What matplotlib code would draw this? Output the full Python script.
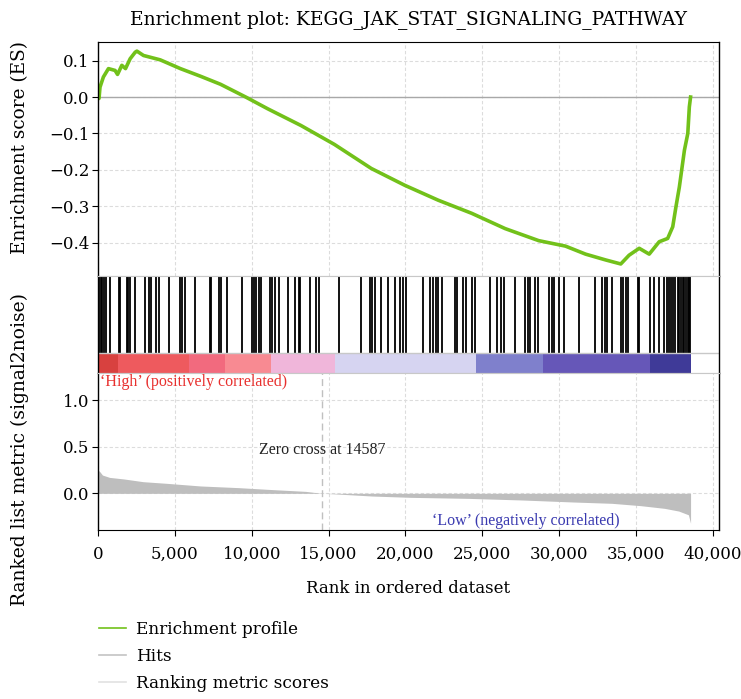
import numpy as np
import matplotlib
matplotlib.use("Agg")
import matplotlib.pyplot as plt
from matplotlib.lines import Line2D
from matplotlib.ticker import FuncFormatter, MultipleLocator

plt.rcParams["font.family"] = ["DejaVu Serif"]

# running enrichment score (rank, ES)
es_rank = [0, 65, 130, 350, 680, 1110, 1270, 1550, 1790, 2090, 2420, 2530,
           2960, 4050, 5360, 6670, 7970, 9610, 11030, 13200, 15380, 17780,
           19950, 22130, 24310, 26490, 28670, 30410, 31720, 33030, 34010,
           34550, 35210, 35860, 36510, 37060, 37390, 37600, 37820, 38150,
           38370, 38470, 38550]
es_value = [0.0, -0.004, 0.027, 0.055, 0.078, 0.073, 0.062, 0.087, 0.078,
            0.105, 0.123, 0.126, 0.114, 0.102, 0.078, 0.057, 0.035, 0.0,
            -0.032, -0.078, -0.130, -0.196, -0.242, -0.283, -0.319, -0.361,
            -0.394, -0.409, -0.431, -0.447, -0.458, -0.434, -0.415, -0.431,
            -0.397, -0.388, -0.356, -0.301, -0.247, -0.146, -0.100, -0.027,
            0.0]

# positions of gene set members in the ranked list
hit_ranks = [87, 196, 283, 414, 523, 784, 1373, 1460, 1873, 1983, 2092, 2375,
             3027, 3333, 3464, 3791, 3987, 4641, 5360, 5469, 5643, 6340, 7255,
             7364, 7865, 7996, 8410, 9390, 10045, 10154, 10305, 10480, 10588,
             11177, 11351, 11500, 11743, 12330, 12830, 13093, 13140, 13790,
             14183, 14357, 15665, 17124, 17669, 17843, 17995, 18431, 18867,
             19302, 19673, 19847, 20022, 21113, 21592, 21766, 21984, 22135,
             22353, 23225, 23333, 23770, 23943, 24314, 24532, 25512, 25948,
             26210, 26426, 27145, 27799, 27952, 28082, 28452, 28605, 29324,
             29542, 29694, 29981, 30307, 31288, 32307, 32810, 32962, 33093,
             33463, 34052, 34183, 34335, 34492, 35099, 35210, 35929, 36191,
             36517, 36844, 36994, 37125, 37275, 37431, 37562, 37713, 37822,
             37926, 38040, 38151, 38256, 38370, 38476, 38540]

# ranked list metric (signal2noise)
metric_rank = [0, 130, 290, 750, 1690, 2930, 4490, 6670, 9150, 11025, 13510,
               14587, 15300, 17850, 20360, 24100, 27520, 30940, 33430, 35300,
               36860, 37780, 38410, 38550]
metric_value = [0.25, 0.23, 0.196, 0.171, 0.154, 0.125, 0.107, 0.079, 0.061,
                0.043, 0.021, 0.0, -0.005, -0.029, -0.043, -0.054, -0.071,
                -0.093, -0.107, -0.132, -0.161, -0.19, -0.23, -0.32]

# colour band along the ranked list: segment edges and colours
band_edges = [0, 1300, 5950, 8240, 11240, 15390, 24560, 28950, 35890, 38560]
band_colors = ["#d8413f", "#ee5a5e", "#f26a7e", "#f88a92", "#f0b6da",
               "#d6d4f1", "#7f80cc", "#6657b8", "#3f3a98"]

zero_cross = 14587
x_max = 40400

green = "#72c11a"
W, H = 741, 699

fig = plt.figure(figsize=(W / 100, H / 100), dpi=100)


def frac(x0, y0, x1, y1):
    return [x0 / W, 1 - y1 / H, (x1 - x0) / W, (y1 - y0) / H]


ax_es = fig.add_axes(frac(98, 42, 719, 276))
ax_hit = fig.add_axes(frac(98, 276, 719, 373))
ax_rm = fig.add_axes(frac(98, 373, 719, 530))

grid_kw = dict(color="#dcdcdc", linestyle=(0, (3, 2)), linewidth=0.8)
frame_gray = "#c8c8c8"
tick_font = 12

# enrichment score panel
ax_es.plot(es_rank, es_value, color=green, linewidth=2.6, solid_joinstyle="round")
ax_es.axhline(0, color="#a8a8a8", linewidth=1.0, zorder=1)
ax_es.set_xlim(0, x_max)
ax_es.set_ylim(-0.491, 0.151)
ax_es.yaxis.set_major_locator(MultipleLocator(0.1))
ax_es.xaxis.set_major_locator(MultipleLocator(5000))
ax_es.grid(True, **grid_kw)
ax_es.set_axisbelow(True)
ax_es.tick_params(axis="x", length=0, labelbottom=False)
ax_es.tick_params(axis="y", labelsize=tick_font, length=4, width=0.8, pad=2)
ax_es.yaxis.set_major_formatter(FuncFormatter(lambda v, p: f"{v:.1f}".replace("-", "\u2212")))
ax_es.spines["bottom"].set_color(frame_gray)

# hits and colour band
ax_hit.set_xlim(0, x_max)
ax_hit.set_ylim(0, 1)
band_top = 20 / 97
ax_hit.vlines(hit_ranks, band_top, 1, color="black", linewidth=1.3)
for i, c in enumerate(band_colors):
    ax_hit.axvspan(band_edges[i], band_edges[i + 1], 0, band_top,
                   color=c, linewidth=0)
ax_hit.axhline(band_top, color=frame_gray, linewidth=1.0)
ax_hit.set_xticks([])
ax_hit.set_yticks([])
ax_hit.spines["top"].set_color(frame_gray)
ax_hit.spines["bottom"].set_color(frame_gray)

# ranked list metric panel
ax_rm.fill_between(metric_rank, 0, metric_value, color="#bebebe", linewidth=0)
ax_rm.set_xlim(0, x_max)
ax_rm.set_ylim(-0.393, 1.29)
ax_rm.yaxis.set_major_locator(MultipleLocator(0.5))
ax_rm.xaxis.set_major_locator(MultipleLocator(5000))
ax_rm.xaxis.set_major_formatter(FuncFormatter(lambda v, p: f"{int(v):,}"))
ax_rm.yaxis.set_major_formatter(FuncFormatter(lambda v, p: f"{v:.1f}"))
ax_rm.grid(True, **grid_kw)
ax_rm.set_axisbelow(True)
ax_rm.tick_params(axis="y", labelsize=tick_font, length=4, width=0.8, pad=2)
ax_rm.tick_params(axis="x", labelsize=tick_font, length=4.5, width=0.8, pad=7)
ax_rm.spines["top"].set_color(frame_gray)
ax_rm.axvline(zero_cross, color="#c0c0c0", linestyle=(0, (5, 3)), linewidth=1.0)
ax_rm.text(zero_cross, 0.465, f"Zero cross at {zero_cross}", ha="center",
           va="center", fontsize=11.5, color="#222222", family="Liberation Serif")
ax_rm.text(150, 1.275, "\u2018High\u2019 (positively correlated)", ha="left",
           va="top", fontsize=11.5, color="#e8302e", family="Liberation Serif")
ax_rm.text(27850, -0.3, "\u2018Low\u2019 (negatively correlated)", ha="center",
           va="center", fontsize=11.5, color="#3a3ab0", family="Liberation Serif")
ax_rm.set_xlabel("Rank in ordered dataset", fontsize=12, labelpad=12)

for ax in (ax_es, ax_hit, ax_rm):
    for s in ("left", "right"):
        ax.spines[s].set_linewidth(1.0)

fig.text(408 / W, 1 - 20 / H, "Enrichment plot: KEGG_JAK_STAT_SIGNALING_PATHWAY",
         ha="center", va="center", fontsize=13.5)
fig.text(20 / W, 1 - 147 / H, "Enrichment score (ES)", rotation=90,
         ha="center", va="center", fontsize=13.3)
fig.text(20 / W, 1 - 450 / H, "Ranked list metric (signal2noise)", rotation=90,
         ha="center", va="center", fontsize=13.5)

handles = [Line2D([], [], color=green, linewidth=1.2),
           Line2D([], [], color="#c4c4c4", linewidth=1.2),
           Line2D([], [], color="#e2e2e2", linewidth=1.2)]
fig.legend(handles, ["Enrichment profile", "Hits", "Ranking metric scores"],
           loc="upper left", bbox_to_anchor=(99 / W, 1 - 621 / H),
           frameon=False, fontsize=12.2, handlelength=1.6, handletextpad=0.6,
           labelspacing=0.6, borderaxespad=0, borderpad=0)

fig.savefig("out.png", dpi=100)
